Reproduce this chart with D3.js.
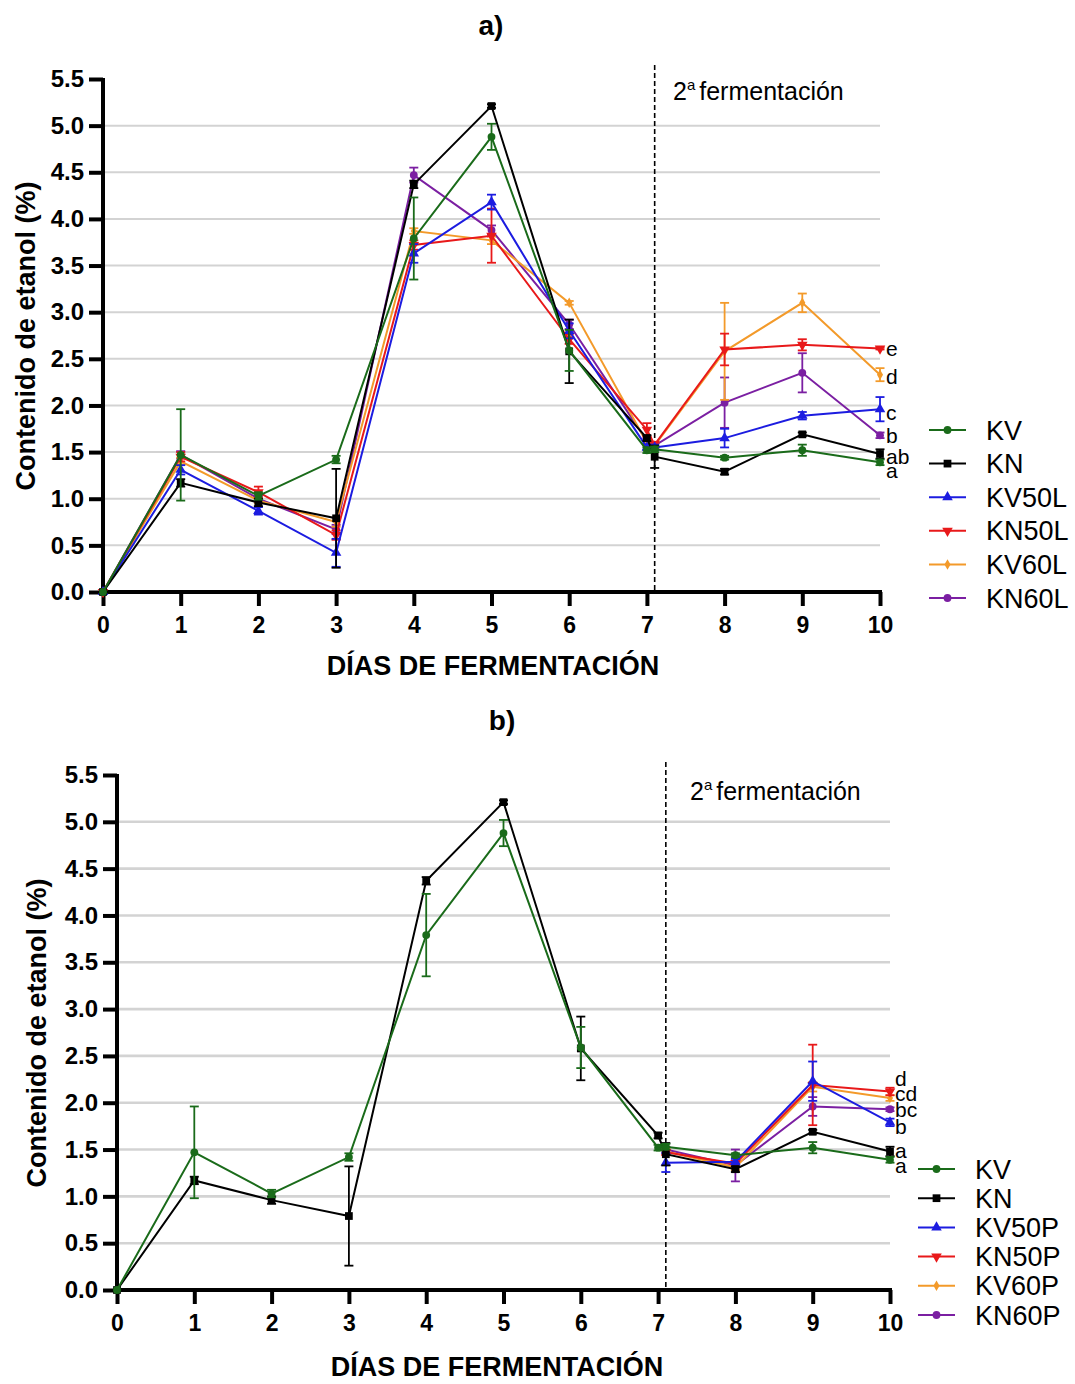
<!DOCTYPE html>
<html>
<head>
<meta charset="utf-8">
<script src="https://cdn.jsdelivr.net/npm/d3@7"></script>
<style>
  body { margin: 0; background: #fff; }
  svg { display: block; font-family: "Liberation Sans", Arial, sans-serif; }
</style>
</head>
<body>
<svg id="chart" width="1075" height="1384"></svg>
<script>
// ---------- DATA ----------
const days = [0, 1, 2, 3, 4, 5, 6, 7, 7.1, 8, 9, 10];
const xTicks = [0, 1, 2, 3, 4, 5, 6, 7, 8, 9, 10];
const yTicks = [0.0, 0.5, 1.0, 1.5, 2.0, 2.5, 3.0, 3.5, 4.0, 4.5, 5.0, 5.5];

// Controls (shared by both panels)
const kv    = [0, 1.47, 1.03, 1.42, 3.79, 4.88, 2.59, 1.52, 1.53, 1.44, 1.52, 1.39];
const kvErr = [0, 0.49, 0.04, 0.04, 0.44, 0.14, 0.22, 0.03, 0.03, 0.02, 0.06, 0.03];
const kn    = [0, 1.17, 0.96, 0.79, 4.37, 5.21, 2.58, 1.65, 1.45, 1.29, 1.69, 1.48];
const knErr = [0, 0.04, 0.04, 0.53, 0.04, 0.02, 0.34, 0.03, 0.12, 0.03, 0.02, 0.05];

// Panel a (L)
const kv50l    = [0, 1.31, 0.87, 0.42, 3.63, 4.18, 2.80, 1.55, 1.55, 1.65, 1.89, 1.96];
const kv50lErr = [0, 0.05, 0.04, 0.15, 0.10, 0.08, 0.08, 0.03, 0.03, 0.10, 0.04, 0.13];
const kn50l    = [0, 1.45, 1.07, 0.61, 3.72, 3.82, 2.71, 1.74, 1.58, 2.60, 2.65, 2.61];
const kn50lErr = [0, 0.05, 0.06, 0.05, 0.05, 0.29, 0.05, 0.07, 0.03, 0.17, 0.06, 0.01];
const kv60l    = [0, 1.40, 0.98, 0.75, 3.87, 3.77, 3.10, 1.60, 1.57, 2.58, 3.10, 2.33];
const kv60lErr = [0, 0.04, 0.03, 0.05, 0.03, 0.04, 0.02, 0.03, 0.03, 0.52, 0.10, 0.07];
const kn60l    = [0, 1.47, 1.00, 0.67, 4.47, 3.88, 2.87, 1.62, 1.57, 2.03, 2.35, 1.68];
const kn60lErr = [0, 0.04, 0.03, 0.05, 0.08, 0.05, 0.05, 0.03, 0.03, 0.27, 0.21, 0.03];

// Panel b (P) – only second fermentation
const kv50p    = [null, null, null, null, null, null, null, null, 1.36, 1.37, 2.23, 1.79];
const kv50pErr = [null, null, null, null, null, null, null, null, 0.10, 0.03, 0.21, 0.04];
const kn50p    = [null, null, null, null, null, null, null, null, 1.47, 1.35, 2.19, 2.12];
const kn50pErr = [null, null, null, null, null, null, null, null, 0.03, 0.03, 0.43, 0.04];
const kv60p    = [null, null, null, null, null, null, null, null, 1.48, 1.31, 2.17, 2.05];
const kv60pErr = [null, null, null, null, null, null, null, null, 0.03, 0.03, 0.05, 0.03];
const kn60p    = [null, null, null, null, null, null, null, null, 1.50, 1.33, 1.96, 1.93];
const kn60pErr = [null, null, null, null, null, null, null, null, 0.03, 0.17, 0.10, 0.02];

const namesA = ["KV", "KN", "KV50L", "KN50L", "KV60L", "KN60L"];
const namesB = ["KV", "KN", "KV50P", "KN50P", "KV60P", "KN60P"];
const lettersA = ["a", "ab", "c", "e", "d", "b"];
const lettersB = ["a", "a", "b", "d", "cd", "bc"];
const title2 = "fermentación";

// ---------- STYLE ----------
const colors = ["#1a6b1a", "#000000", "#1c1ce0", "#e8191a", "#f39a2a", "#7b1fa2"];
const shapes = ["circle", "square", "up", "down", "diamond", "circle"];

const svg = d3.select("#chart");
const FONT = "'Liberation Sans', Arial, sans-serif";

function markerPath(shape) {
  if (shape === "circle") return d3.symbol(d3.symbolCircle, 48)();
  if (shape === "square") return d3.symbol(d3.symbolSquare, 60)();
  if (shape === "up") return d3.symbol(d3.symbolTriangle, 48)();
  if (shape === "down") return d3.symbol(d3.symbolTriangle, 48)();
  if (shape === "diamond") return d3.symbol(d3.symbolDiamond, 32)();
}

function drawPanel(cfg) {
  const g = svg.append("g");
  const x = d3.scaleLinear().domain([0, 10]).range([cfg.x0, cfg.x1]);
  const y = d3.scaleLinear().domain([0, 5.5]).range([cfg.y0, cfg.y1]);

  // title
  g.append("text").attr("x", cfg.titleX).attr("y", cfg.titleY)
    .attr("text-anchor", "middle").attr("font-size", 28).attr("font-weight", "bold")
    .attr("font-family", FONT).text(cfg.title);

  // gridlines
  g.append("g").selectAll("line").data(yTicks.filter(v => v > 0 && v < 5.5)).join("line")
    .attr("x1", cfg.x0).attr("x2", cfg.x1)
    .attr("y1", d => y(d)).attr("y2", d => y(d))
    .attr("stroke", "#d3d3d3").attr("stroke-width", cfg.gridW);

  // dashed separator
  g.append("line").attr("x1", x(7.1)).attr("x2", x(7.1))
    .attr("y1", cfg.dashTop).attr("y2", cfg.y0)
    .attr("stroke", "#000").attr("stroke-width", 1.6).attr("stroke-dasharray", "5,3");

  // 2ª fermentación
  const t = g.append("text").attr("x", cfg.fermX).attr("y", cfg.fermY)
    .attr("font-size", 25).attr("font-family", FONT);
  t.append("tspan").text("2");
  t.append("tspan").attr("font-size", 15).attr("dy", -10).text("a");
  t.append("tspan").attr("dy", 10).attr("dx", 4).text(title2);

  // axes
  const yAxis = d3.axisLeft(y).tickValues(yTicks).tickFormat(d3.format(".1f"))
    .tickSize(14).tickPadding(5);
  const ya = g.append("g").attr("transform", `translate(${cfg.x0},0)`).call(yAxis);
  ya.select(".domain").attr("stroke-width", 4).attr("d", `M0,${cfg.y1 - 1}V${cfg.y0 + 2}`);
  ya.selectAll(".tick line").attr("stroke-width", 4);
  ya.selectAll(".tick text").attr("font-size", 24).attr("font-weight", "bold")
    .attr("font-family", FONT).attr("fill", "#000");

  const xAxis = d3.axisBottom(x).tickValues(xTicks).tickFormat(d3.format("d"))
    .tickSize(14).tickPadding(11);
  const xa = g.append("g").attr("transform", `translate(0,${cfg.y0})`).call(xAxis);
  xa.select(".domain").attr("stroke-width", 4).attr("d", `M${cfg.x0 - 2},0H${cfg.x1 + 2}`);
  xa.selectAll(".tick line").attr("stroke-width", 4);
  xa.selectAll(".tick text").attr("font-size", 23).attr("font-weight", "bold")
    .attr("font-family", FONT).attr("fill", "#000");

  // axis titles
  g.append("text").attr("x", cfg.xTitleX).attr("y", cfg.xTitleY)
    .attr("text-anchor", "middle").attr("font-size", 27).attr("font-weight", "bold")
    .attr("font-family", FONT).text("DÍAS DE FERMENTACIÓN");
  g.append("text").attr("transform", `translate(${cfg.yTitleX},${cfg.yTitleY}) rotate(-90)`)
    .attr("text-anchor", "middle").attr("font-size", 27).attr("font-weight", "bold")
    .attr("font-family", FONT).text("Contenido de etanol (%)");

  // series
  const order = [5, 4, 3, 2, 1, 0];
  order.forEach(i => {
    const vals = cfg.series[i], errs = cfg.errs[i];
    const pts = days.map((d, k) => ({ d, v: vals[k], e: errs[k] })).filter(p => p.v !== null);
    const sg = g.append("g");
    const line = d3.line().x(p => x(p.d)).y(p => y(p.v));
    sg.append("path").datum(pts).attr("d", line).attr("fill", "none")
      .attr("stroke", colors[i]).attr("stroke-width", 2);
    // error bars
    pts.filter(p => p.e > 0).forEach(p => {
      const cx = x(p.d), yt = y(p.v + p.e), yb = y(p.v - p.e);
      sg.append("line").attr("x1", cx).attr("x2", cx).attr("y1", yt).attr("y2", yb)
        .attr("stroke", colors[i]).attr("stroke-width", 1.8);
      [yt, yb].forEach(yy => sg.append("line").attr("x1", cx - 4.5).attr("x2", cx + 4.5)
        .attr("y1", yy).attr("y2", yy).attr("stroke", colors[i]).attr("stroke-width", 1.8));
    });
    sg.selectAll("path.m").data(pts).join("path").attr("class", "m")
      .attr("d", markerPath(shapes[i]))
      .attr("transform", p => `translate(${x(p.d)},${y(p.v)})` + (shapes[i] === "down" ? " rotate(180)" : ""))
      .attr("fill", colors[i]);
  });

  // significance letters
  cfg.letters.forEach((L, i) => {
    const last = cfg.series[i][cfg.series[i].length - 1];
    g.append("text").attr("x", x(10) + cfg.letterDx).attr("y", y(last) + cfg.letterDy[i] + 7)
      .attr("font-size", 21).attr("font-family", FONT).text(L);
  });

  // legend
  cfg.names.forEach((n, i) => {
    const ly = cfg.legY0 + i * cfg.legStep;
    g.append("line").attr("x1", cfg.legX).attr("x2", cfg.legX + 37).attr("y1", ly).attr("y2", ly)
      .attr("stroke", colors[i]).attr("stroke-width", 2);
    g.append("path").attr("d", markerPath(shapes[i]))
      .attr("transform", `translate(${cfg.legX + 18.5},${ly})` + (shapes[i] === "down" ? " rotate(180)" : ""))
      .attr("fill", colors[i]);
    g.append("text").attr("x", cfg.legX + 57).attr("y", ly + 9.5)
      .attr("font-size", 27).attr("font-family", FONT).text(n);
  });
}

drawPanel({
  title: "a)", titleX: 491, titleY: 35,
  x0: 103, x1: 880, y0: 592, y1: 79, dashTop: 65, gridW: 2,
  fermX: 673, fermY: 100,
  xTitleX: 493, xTitleY: 675, yTitleX: 35, yTitleY: 336,
  series: [kv, kn, kv50l, kn50l, kv60l, kn60l],
  errs: [kvErr, knErr, kv50lErr, kn50lErr, kv60lErr, kn60lErr],
  letters: lettersA, letterDx: 6, letterDy: [9, 3, 4, 0, 2, 1],
  names: namesA, legX: 929, legY0: 430, legStep: 33.6
});

drawPanel({
  title: "b)", titleX: 502, titleY: 730,
  x0: 117, x1: 890, y0: 1290, y1: 775, dashTop: 762, gridW: 2.6,
  fermX: 690, fermY: 800,
  xTitleX: 497, xTitleY: 1376, yTitleX: 46, yTitleY: 1033,
  series: [kv, kn, kv50p, kn50p, kv60p, kn60p],
  errs: [kvErr, knErr, kv50pErr, kn50pErr, kv60pErr, kn60pErr],
  letters: lettersB, letterDx: 5, letterDy: [6, 0, 5, -12, -4, 1],
  names: namesB, legX: 918, legY0: 1169, legStep: 29.2
});
</script>
</body>
</html>
